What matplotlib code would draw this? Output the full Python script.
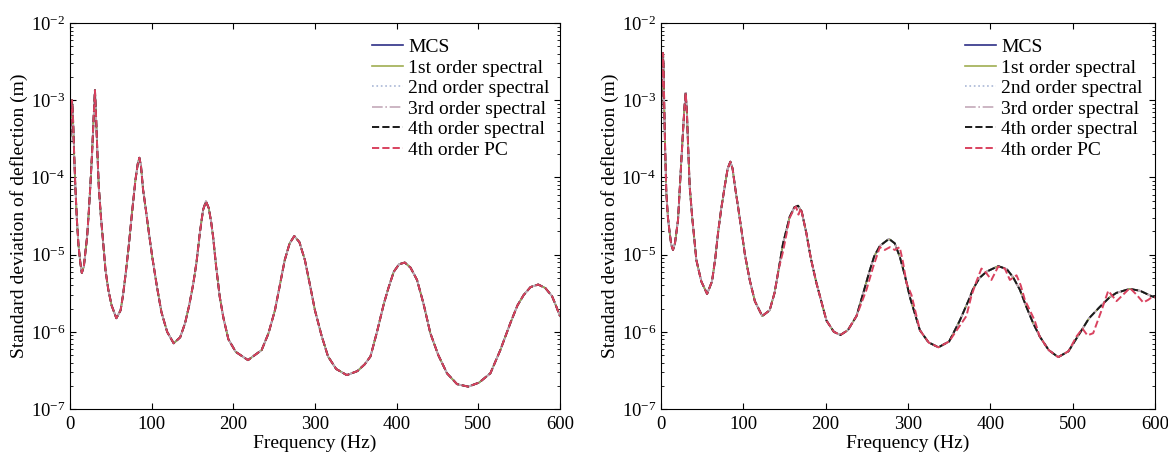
import numpy as np
import matplotlib.pyplot as plt
from matplotlib.ticker import LogLocator, NullFormatter

plt.rcParams['font.family'] = ['Liberation Serif', 'DejaVu Serif']
plt.rcParams['mathtext.fontset'] = 'stix'

# left panel: frequency (Hz) and std of deflection (m)
left_freq = [0, 1, 2, 2.5, 3.5, 5, 6.5, 8.5, 10.5, 12.6, 14.5, 17, 19, 21, 23, 25, 27, 29,
             30.6, 32, 33.5, 35.3, 38, 40.5, 43.5, 47, 51, 56.8, 62, 65, 68.5, 72, 76,
             80.2, 83, 85, 87, 89.5, 92.4, 97, 101, 106.6, 112, 119, 127, 135, 141, 146,
             151, 155, 159, 163, 166.5, 170, 173, 175.3, 179, 183.5, 188, 194, 203, 218,
             234.7, 243, 251, 257, 263, 269, 274.7, 281, 287.7, 294, 300, 308, 316, 326,
             339, 352, 361, 368, 376, 384.3, 390, 396.5, 403, 410, 417, 425, 433, 441.3,
             451, 461.7, 474, 487.7, 501, 514.8, 527, 539.3, 548, 555.6, 564, 573.4, 582,
             590.3, 595, 600]
left_mcs = [2.5e-4, 5e-4, 9e-4, 1.0e-3, 7e-4, 2.2e-4, 8e-5, 2.8e-5, 1.3e-5, 8e-6, 5.8e-6,
            7e-6, 1.1e-5, 1.7e-5, 3.5e-5, 8e-5, 2e-4, 6e-4,
            1.35e-3, 6e-4, 2.2e-4, 7.6e-5, 3e-5, 1.5e-5, 6.3e-6, 3.5e-6, 2.2e-6, 1.5e-6,
            1.9e-6, 3e-6, 6e-6, 1.3e-5, 3.5e-5,
            9.3e-5, 1.5e-4, 1.8e-4, 1.4e-4, 7e-5, 4.2e-5, 1.8e-5, 9e-6, 3.8e-6, 1.8e-6,
            1e-6, 7.1e-7, 8.5e-7, 1.3e-6, 2.2e-6,
            4.2e-6, 8e-6, 1.9e-5, 3.8e-5, 4.9e-5, 4e-5, 2.6e-5, 1.7e-5, 7e-6, 2.8e-6,
            1.5e-6, 8e-7, 5.5e-7, 4.3e-7,
            5.8e-7, 9.5e-7, 1.9e-6, 4e-6, 8.5e-6, 1.4e-5, 1.74e-5, 1.45e-5, 8.5e-6, 4e-6,
            1.9e-6, 9e-7, 4.8e-7, 3.3e-7,
            2.75e-7, 3.1e-7, 3.8e-7, 4.8e-7, 1e-6, 2.3e-6, 3.7e-6, 6e-6, 7.5e-6, 7.9e-6,
            6.8e-6, 4.7e-6, 2.3e-6, 9.6e-7,
            5e-7, 2.9e-7, 2.1e-7, 1.95e-7, 2.2e-7, 2.9e-7, 5.8e-7, 1.3e-6, 2.2e-6, 3e-6,
            3.8e-6, 4.1e-6, 3.7e-6,
            2.9e-6, 2.2e-6, 1.6e-6]

# right panel
right_freq = [0, 1, 2, 2.5, 3.2, 4, 5, 6.5, 8.5, 10.6, 12.5, 14.6, 17, 20.7, 24, 26.8, 28.5,
              30, 31.5, 33, 34.9, 38, 43, 49, 56, 62, 66, 69.3, 73, 77.4, 81, 84.3, 87, 90,
              93.6, 98, 102, 107.8, 114, 123, 132, 138, 143, 148.3, 156.4, 162, 166.5, 171,
              176.6, 182, 188.8, 201, 210, 218, 227, 237.5, 245, 253.7, 259, 265.9, 277,
              284, 290.2, 296, 302.4, 314.5, 325, 337, 350, 363, 375.2, 379.1, 387, 395.3,
              409.6, 420, 427.7, 436, 443.9, 452, 460.1, 471, 482.5, 495, 508.7, 520, 533,
              545, 553.3, 569.5, 582, 595.8, 600]
right_mcs = [6e-4, 1.5e-3, 3.2e-3, 4.1e-3, 2.5e-3, 8e-4, 2.5e-4, 6.3e-5, 3e-5, 1.9e-5,
             1.35e-5, 1.15e-5, 1.4e-5, 2.8e-5, 1.2e-4, 4e-4, 8e-4,
             1.25e-3, 7e-4, 2.5e-4, 7.6e-5, 3e-5, 8.5e-6, 4.5e-6, 3.1e-6, 4.5e-6, 9e-6,
             1.9e-5, 3.8e-5, 7.6e-5, 1.3e-4, 1.6e-4, 1.3e-4, 7.5e-5,
             4.2e-5, 2e-5, 1e-5, 4.7e-6, 2.5e-6, 1.6e-6, 1.9e-6, 3.2e-6, 6.5e-6, 1.4e-5,
             3.1e-5, 4.1e-5, 4.3e-5, 3.6e-5,
             1.9e-5, 9e-6, 4.3e-6, 1.4e-6, 1e-6, 9.1e-7, 1.05e-6, 1.6e-6, 3e-6, 6.3e-6,
             9.5e-6, 1.3e-5, 1.6e-5,
             1.4e-5, 9.3e-6, 5.5e-6, 2.8e-6, 1.05e-6, 7.3e-7, 6.3e-7, 7.5e-7, 1.4e-6,
             2.8e-6, 3.6e-6, 5e-6, 6e-6,
             7.1e-6, 6.5e-6, 5.1e-6, 3.5e-6, 2.1e-6, 1.3e-6, 8.7e-7, 5.8e-7, 4.7e-7, 5.6e-7,
             9.6e-7, 1.5e-6, 2.1e-6,
             2.8e-6, 3.2e-6, 3.6e-6, 3.4e-6, 2.9e-6, 2.8e-6]

# right panel, 4th order PC (wiggles around the peaks)
right_pc_freq = [0, 1, 2, 2.5, 3.2, 4, 5, 6.5, 8.5, 10.6, 12.5, 14.6, 17, 20.7, 24, 26.8,
                 28.5, 30, 31.5, 33, 34.9, 38, 43, 49, 56, 62, 66, 69.3, 73, 77.4, 81, 84.3,
                 87, 90, 93.6, 98, 102, 107.8, 114, 123, 132, 138, 143, 148.3, 156.4, 162,
                 164, 167, 170, 176.6, 182, 188.8, 201, 210, 218, 227, 237.5, 245, 249.6,
                 257.7, 265.8, 271.9, 278, 284, 290, 294, 298.2, 304.3, 314.5, 325, 337, 350,
                 363, 371, 377, 383.2, 389.3, 395, 401.4, 409.6, 417.7, 423.8, 431.9, 437,
                 442, 454, 460, 471, 482.5, 495, 504.7, 512, 518, 525, 535.2, 543.3, 553.4,
                 561, 569.6, 578, 585.8, 592, 596, 600]
right_pc = [6e-4, 1.5e-3, 3.2e-3, 4.1e-3, 2.5e-3, 8e-4, 2.5e-4, 6.3e-5, 3e-5, 1.9e-5,
            1.35e-5, 1.15e-5, 1.4e-5, 2.8e-5, 1.2e-4, 4e-4,
            8e-4, 1.25e-3, 7e-4, 2.5e-4, 7.6e-5, 3e-5, 8.5e-6, 4.5e-6, 3.1e-6, 4.5e-6, 9e-6,
            1.9e-5, 3.8e-5, 7.6e-5, 1.3e-4, 1.6e-4,
            1.3e-4, 7.5e-5, 4.2e-5, 2e-5, 1e-5, 4.7e-6, 2.5e-6, 1.6e-6, 1.9e-6, 3.2e-6,
            6.5e-6, 1.1e-5, 3e-5, 4e-5,
            4.2e-5, 3.3e-5, 4e-5, 1.9e-5, 9e-6, 4.3e-6, 1.4e-6, 1e-6, 9.1e-7, 1.05e-6,
            1.6e-6, 2.6e-6, 3.5e-6,
            6.9e-6, 1.25e-5, 1.15e-5, 1.25e-5, 1.15e-5, 1.25e-5, 8e-6, 4.3e-6, 3e-6,
            1.05e-6, 7.3e-7, 6.3e-7, 7.5e-7,
            1.2e-6, 1.6e-6, 2.9e-6, 4.5e-6, 6.6e-6, 5.8e-6, 4.7e-6, 7e-6, 6.6e-6, 4.7e-6,
            5.4e-6, 4e-6,
            2.6e-6, 1.4e-6, 8.7e-7, 5.8e-7, 4.7e-7, 5.6e-7, 8.7e-7, 1.1e-6, 9e-7, 9.6e-7,
            1.9e-6, 3.4e-6, 2.5e-6,
            3e-6, 3.7e-6, 3e-6, 2.4e-6, 2.6e-6, 2.8e-6, 2.8e-6]

labels = ['MCS', '1st order spectral', '2nd order spectral', '3rd order spectral',
          '4th order spectral', '4th order PC']
colors = ['#2e2f86', '#9fae52', '#a9b7d6', '#c4a9b9', '#1a1a1a', '#d9425f']
styles = ['-', '-', ':', '-.', '--', '--']
widths = [1.2, 1.2, 1.2, 1.2, 1.4, 1.4]


def panel(ax, freq, mcs, pc_freq, pc, legx):
    # the spectral curves sit on top of the MCS one
    for lab, c, ls, w in zip(labels[:5], colors[:5], styles[:5], widths[:5]):
        ax.plot(freq, mcs, linestyle=ls, color=c, lw=w, label=lab)
    ax.plot(pc_freq, pc, linestyle=styles[5], color=colors[5], lw=widths[5], label=labels[5])
    ax.set_yscale('log')
    ax.set_xlim(0, 600)
    ax.set_ylim(1e-7, 1e-2)
    ax.set_xticks(range(0, 601, 100))
    ax.yaxis.set_major_locator(LogLocator(base=10, numticks=10))
    ax.yaxis.set_minor_locator(LogLocator(base=10, subs=np.arange(2, 10), numticks=10))
    ax.yaxis.set_minor_formatter(NullFormatter())
    ax.tick_params(which='both', direction='in', top=True, right=True, labelsize=13.5)
    ax.tick_params(axis='x', pad=5)
    ax.tick_params(which='major', length=4)
    ax.tick_params(which='minor', length=2)
    ax.set_xlabel('Frequency (Hz)', fontsize=14, labelpad=1)
    ax.set_ylabel('Standard deviation of deflection (m)', fontsize=14, labelpad=2)
    ax.legend(loc='upper left', bbox_to_anchor=(legx, 0.97), frameon=False, fontsize=14,
              handlelength=1.63, handletextpad=0.25, labelspacing=0.15, borderaxespad=0,
              borderpad=0.2)


fig = plt.figure(figsize=(11.68, 4.53), dpi=100)
ax1 = fig.add_axes([0.0599, 0.0971, 0.4195, 0.852])
ax2 = fig.add_axes([0.5659, 0.0971, 0.4229, 0.852])

panel(ax1, left_freq, left_mcs, left_freq, left_mcs, 0.608)
panel(ax2, right_freq, right_mcs, right_pc_freq, right_pc, 0.607)

fig.savefig('out.png', dpi=100)
